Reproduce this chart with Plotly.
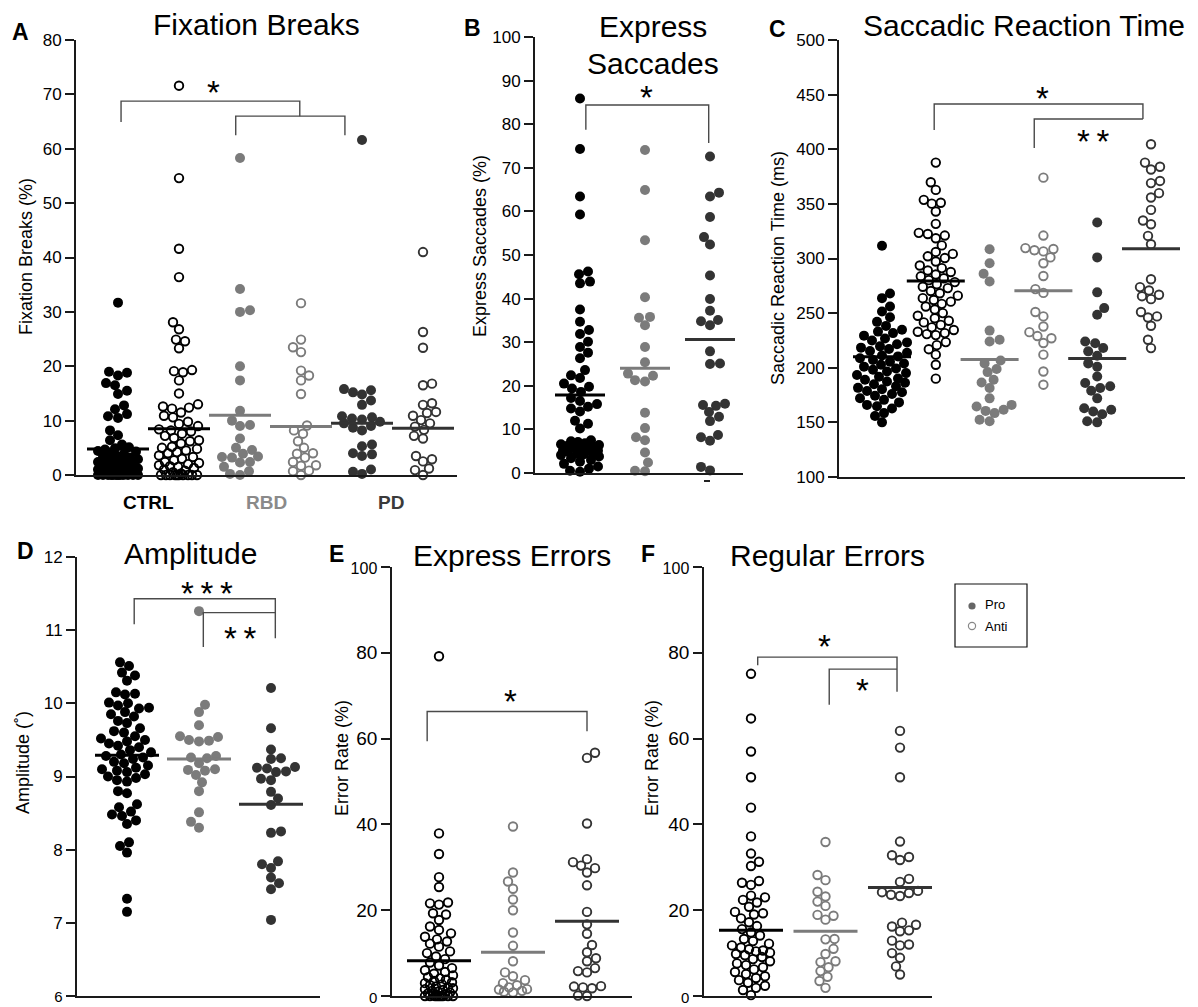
import math
import plotly.graph_objects as go

W, H = 1198, 1007
FONT = "Liberation Sans, Arial, sans-serif"
BLACK = "#000000"
GREY = "#7b7b7b"
DARK = "#333333"
AX = "#1a1a1a"
BRK = "#4a4a4a"

# ---------------- data ----------------
# A  Fixation Breaks (%)
A_ctrl_pro = [31.7, 19.0, 18.8, 18.3, 16.9, 16.5, 15.5, 14.9, 12.8, 12.1, 11.2, 10.8, 10.5, 8.2, 7.3, 6.4,
              5.6, 5.1, 4.9, 4.7, 4.4, 4.3, 3.9, 3.8, 3.5, 3.3, 3.2, 2.9, 2.7, 2.6, 2.4, 2.2, 2.1, 1.9,
              1.9, 1.7, 1.6, 1.6, 1.4, 1.3, 1.2, 1.1, 1.0, 0.9, 0.9, 0.8, 0.7, 0.6, 0.5, 0.4, 0.3, 0.2,
              0.1, 0.0, 0.0, 0.0, 0.0, 0.0, 0.0, 0.0, 0.0, 0.0, 0.0, 0.0, 0.0]
A_ctrl_anti = [71.6, 54.6, 41.6, 36.4, 28.1, 26.8, 24.9, 24.6, 23.3, 19.3, 19.1, 18.9, 17.4, 15.0, 13.0,
               12.6, 12.4, 12.2, 11.5, 10.9, 10.6, 9.8, 9.4, 9.0, 8.4, 8.2, 8.0, 7.6, 7.2, 6.8, 6.4, 6.2,
               5.8, 5.2, 5.0, 4.8, 4.5, 4.2, 4.0, 3.6, 3.3, 3.0, 2.7, 2.4, 2.2, 2.0, 1.8, 1.6, 1.5, 1.3,
               1.0, 0.8, 0.5, 0.3, 0.0, 0.0, 0.0, 0.0, 0.0, 0.0, 0.0, 0.0, 0.0, 0.0]
A_rbd_pro = [58.3, 34.2, 30.3, 30.0, 20.0, 17.4, 11.8, 10.0, 9.2, 9.0, 6.7, 5.0, 4.6, 3.9, 3.4, 3.3, 3.2,
             2.4, 2.3, 1.5, 0.7, 0.2, 0.0]
A_rbd_anti = [31.6, 24.9, 23.5, 22.6, 19.2, 18.3, 17.4, 14.9, 9.1, 8.2, 7.6, 6.2, 5.0, 4.0, 3.9, 3.2, 2.4,
              1.8, 1.7, 0.8, 0.7, 0.0]
A_pd_pro = [61.6, 15.8, 15.6, 15.2, 14.8, 13.7, 12.9, 10.8, 10.6, 10.4, 10.2, 9.8, 9.5, 9.0, 8.7, 8.2,
            5.6, 5.3, 4.0, 3.8, 3.5, 1.0, 0.6, 0.2]
A_pd_anti = [41.0, 26.3, 23.4, 16.8, 16.5, 13.2, 12.9, 11.6, 11.4, 10.9, 10.1, 9.5, 8.9, 8.3, 7.2, 6.7,
             3.5, 2.9, 2.5, 1.2, 0.9, 0.0]
A_means = [4.8, 8.5, 11.0, 8.9, 9.5, 8.6]

# B  Express Saccades (%)
B_ctrl = [85.9, 74.3, 63.4, 59.3, 46.2, 45.6, 43.9, 43.5, 37.5, 34.7, 32.8, 31.9, 30.1, 28.9, 27.6, 26.3,
          23.6, 22.4, 21.8, 20.5, 19.8, 19.4, 18.6, 17.2, 16.5, 15.8, 15.2, 14.8, 14.1, 12.0, 11.3, 10.2,
          7.5, 7.3, 7.1, 6.8, 6.6, 6.4, 6.2, 6.0, 5.8, 5.6, 5.4, 5.2, 5.1, 4.9, 4.7, 4.5, 4.3, 4.1, 3.8,
          3.4, 3.0, 2.6, 2.1, 1.5, 1.0, 0.5, 0.3]
B_rbd = [74.1, 64.9, 53.4, 40.3, 35.8, 35.6, 33.9, 28.9, 25.4, 22.8, 22.3, 21.3, 21.0, 13.8, 10.3, 8.2,
         7.5, 4.7, 2.4, 0.5, 0.4]
B_pd = [72.6, 64.3, 63.4, 58.7, 54.1, 52.4, 45.3, 39.9, 37.2, 35.1, 34.8, 33.9, 27.9, 25.1, 25.0, 15.9,
        15.6, 15.4, 14.0, 12.9, 11.9, 8.7, 8.2, 7.4, 1.4, 0.6]
B_means = [17.9, 24.0, 30.6]

# C  Saccadic Reaction Time (ms)
C_ctrl_pro = [311.6, 268.0, 263.7, 256.0, 251.5, 246.2, 242.0, 238.3, 234.8, 233.1, 231.7, 229.4, 226.8,
              225.0, 223.2, 221.5, 219.6, 218.4, 217.1, 215.3, 213.8, 211.2, 210.4, 208.7, 207.1, 205.6,
              203.9, 202.7, 201.0, 199.4, 198.2, 196.5, 195.1, 193.3, 191.8, 190.2, 189.0, 187.4, 186.2,
              184.9, 183.0, 181.6, 180.3, 178.7, 177.5, 176.0, 174.4, 172.1, 170.6, 168.3, 166.0, 164.8,
              162.7, 158.5, 155.9, 150.0]
C_ctrl_anti = [387.8, 369.8, 362.8, 353.7, 351.0, 350.2, 343.0, 331.7, 323.5, 322.4, 321.0, 318.5, 312.0,
               306.0, 304.2, 302.0, 300.4, 297.3, 293.6, 291.2, 289.0, 287.6, 285.3, 283.7, 281.9, 280.2,
               278.4, 276.5, 274.1, 272.9, 270.3, 268.2, 266.0, 263.7, 262.0, 260.5, 258.5, 256.1, 253.3,
               250.0, 247.6, 245.3, 243.0, 241.5, 239.2, 237.0, 234.6, 233.0, 231.7, 230.8, 229.9, 223.5,
               220.7, 217.0, 212.0, 202.7, 190.0]
C_rbd_pro = [308.5, 295.7, 286.0, 279.0, 234.0, 225.6, 224.0, 206.7, 204.0, 198.8, 196.0, 189.0, 186.5,
             181.4, 172.0, 166.0, 164.6, 161.6, 160.5, 158.5, 152.4, 151.0]
C_rbd_anti = [374.0, 321.0, 309.5, 308.7, 307.6, 306.5, 301.0, 295.7, 284.0, 272.0, 268.5, 251.0, 247.0,
              237.8, 232.6, 229.0, 227.0, 222.6, 212.0, 196.6, 184.5]
C_pd_pro = [333.0, 301.0, 269.0, 254.6, 248.5, 224.0, 222.5, 218.0, 215.0, 211.0, 204.0, 201.0, 192.0,
            186.0, 183.0, 181.4, 179.0, 172.0, 163.0, 161.6, 160.0, 157.5, 151.0, 150.0]
C_pd_anti = [404.6, 387.8, 384.0, 381.5, 371.0, 369.0, 359.8, 355.8, 344.5, 334.8, 331.4, 320.7, 313.0,
             281.0, 273.8, 270.7, 266.8, 265.5, 262.8, 251.0, 247.0, 246.0, 238.4, 225.6, 218.0]
C_means = [210.0, 279.5, 207.5, 270.5, 208.5, 309.0]

# D  Amplitude (deg)
D_ctrl = [10.56, 10.51, 10.42, 10.38, 10.31, 10.15, 10.13, 10.12, 10.01, 10.0, 9.97, 9.94, 9.93, 9.88,
          9.85, 9.82, 9.76, 9.73, 9.66, 9.62, 9.6, 9.55, 9.52, 9.5, 9.48, 9.45, 9.42, 9.4, 9.36, 9.33,
          9.3, 9.28, 9.26, 9.24, 9.2, 9.18, 9.15, 9.12, 9.1, 9.08, 9.06, 9.03, 9.0, 8.98, 8.95, 8.93,
          8.8, 8.77, 8.62, 8.58, 8.52, 8.48, 8.46, 8.4, 8.35, 8.1, 8.05, 7.96, 7.33, 7.15]
D_rbd = [11.26, 9.98, 9.88, 9.70, 9.55, 9.54, 9.50, 9.49, 9.48, 9.28, 9.26, 9.25, 9.18, 9.10, 9.09, 9.08,
         9.02, 8.92, 8.80, 8.51, 8.38, 8.30]
D_pd = [10.21, 9.66, 9.37, 9.25, 9.24, 9.13, 9.12, 9.11, 9.07, 9.06, 8.97, 8.95, 8.79, 8.70, 8.61, 8.25,
        8.23, 7.84, 7.80, 7.75, 7.62, 7.54, 7.46, 7.04]
D_means = [9.29, 9.24, 8.62]

# E  Express Errors, error rate (%)
E_ctrl = [79.2, 37.9, 33.1, 27.7, 25.4, 21.8, 21.6, 21.3, 19.3, 19.0, 17.7, 16.2, 15.4, 14.6, 13.8, 13.2,
          12.7, 12.2, 11.5, 10.4, 10.0, 9.2, 8.6, 7.8, 7.1, 6.5, 6.0, 5.6, 5.2, 4.8, 4.4, 4.1, 3.8, 3.5,
          3.2, 3.0, 2.7, 2.5, 2.2, 2.0, 1.8, 1.6, 1.4, 1.2, 1.0, 0.8, 0.6, 0.4, 0.2, 0.0, 0.0, 0.0, 0.0,
          0.0, 0.0, 0.0, 0.0, 0.0]
E_rbd = [39.5, 28.8, 26.7, 25.0, 22.5, 20.0, 14.8, 11.7, 8.1, 5.5, 4.6, 3.7, 3.0, 2.5, 2.0, 1.6, 1.5,
         1.2, 1.0, 0.8]
E_pd = [56.7, 55.5, 40.2, 31.9, 31.2, 30.4, 29.8, 28.8, 25.8, 19.6, 16.7, 14.5, 11.9, 10.2, 8.8, 8.1,
        6.5, 5.8, 5.5, 2.3, 2.2, 2.0, 1.8, 0.1, 0.0]
E_means = [8.2, 10.2, 17.4]

# F  Regular Errors, error rate (%)
F_ctrl = [75.1, 64.7, 57.0, 51.0, 43.9, 37.2, 33.2, 31.3, 30.3, 26.8, 26.4, 25.9, 23.4, 23.0, 22.4, 21.8,
          20.8, 19.6, 19.3, 19.0, 18.1, 17.2, 16.3, 15.6, 14.8, 14.1, 13.3, 12.8, 12.2, 11.8, 11.3, 10.9,
          10.6, 10.4, 10.1, 9.8, 9.5, 9.1, 8.6, 8.1, 7.6, 7.2, 6.7, 6.2, 5.6, 5.1, 4.6, 4.2, 3.7, 3.1,
          2.4, 1.9, 1.4, 0.2]
F_rbd = [35.9, 28.2, 27.0, 24.3, 23.2, 22.0, 21.0, 18.9, 18.7, 17.8, 13.3, 13.2, 11.0, 9.8, 8.1, 7.9,
         6.7, 5.8, 4.5, 3.5, 1.9]
F_pd = [61.8, 57.9, 51.0, 36.0, 32.8, 32.4, 31.7, 27.3, 26.6, 24.5, 24.2, 24.0, 23.6, 23.3, 17.1, 16.6,
        16.2, 15.3, 15.1, 12.9, 12.0, 11.8, 10.0, 8.9, 6.9, 5.0]
F_means = [15.3, 15.1, 25.3]

GROUP_LABELS = ["CTRL", "RBD", "PD"]
LEGEND_LABELS = ["Pro", "Anti"]

# ---------------- layout description ----------------
panels = [
    dict(letter="A", title=["Fixation Breaks"], ylabel="Fixation Breaks (%)", tfs=17,
         xpx=(76, 457), ypx=(40, 475), yr=(0, 80), dtick=10, c0=118, unit=61, cap=20, halfw=31,
         groups=[(A_ctrl_pro, BLACK, True), (A_ctrl_anti, BLACK, False), (A_rbd_pro, GREY, True),
                 (A_rbd_anti, GREY, False), (A_pd_pro, DARK, True), (A_pd_anti, DARK, False)],
         means=A_means,
         brackets=[[(0.05, 64.9), (0.05, 68.75), (2.98, 68.75), (2.98, 66.0)],
                   [(1.93, 62.5), (1.93, 66.0), (3.72, 66.0), (3.72, 62.5)]],
         stars=[(1.56, 71.3, "*")]),
    dict(letter="B", title=["Express", "Saccades"], ylabel="Express Saccades (%)", tfs=17,
         xpx=(535, 743), ypx=(37, 473), yr=(0, 100), dtick=10, c0=580, unit=65, cap=19, halfw=25,
         groups=[(B_ctrl, BLACK, True), (B_rbd, GREY, True), (B_pd, DARK, True)],
         means=B_means,
         brackets=[[(0.09, 78.7), (0.09, 84.4), (1.98, 84.4), (1.98, 75.7)]],
         stars=[(1.03, 87.2, "*")]),
    dict(letter="C", title=["Saccadic Reaction Time"], ylabel="Saccadic Reaction Time (ms)", tfs=17,
         xpx=(839, 1185), ypx=(40, 477), yr=(100, 500), dtick=50, c0=882, unit=53.8, cap=25, halfw=29,
         groups=[(C_ctrl_pro, BLACK, True), (C_ctrl_anti, BLACK, False), (C_rbd_pro, GREY, True),
                 (C_rbd_anti, GREY, False), (C_pd_pro, DARK, True), (C_pd_anti, DARK, False)],
         means=C_means,
         brackets=[[(0.97, 417.6), (0.97, 441.4), (4.85, 441.4), (4.85, 427.7)],
                   [(2.83, 401.1), (2.83, 427.7), (4.85, 427.7)]],
         stars=[(2.99, 450.6, "*"), (3.92, 412.1, "*\u2009*")]),
    dict(letter="D", title=["Amplitude"], ylabel="Amplitude (\u02da)", tfs=17,
         xpx=(77, 320), ypx=(557, 996), yr=(6, 12), dtick=1, c0=127, unit=72, cap=30, halfw=32,
         groups=[(D_ctrl, BLACK, True), (D_rbd, GREY, True), (D_pd, DARK, True)],
         means=D_means,
         brackets=[[(0.1, 11.08), (0.1, 11.43), (2.06, 11.43), (2.06, 10.89)],
                   [(1.06, 10.77), (1.06, 11.24), (2.06, 11.24)]],
         stars=[(1.11, 11.57, "*\u2009*\u2009*"), (1.57, 10.95, "*\u2009*")]),
    dict(letter="E", title=["Express Errors"], ylabel="Error Rate (%)", tfs=19,
         xpx=(392, 632), ypx=(567, 996), yr=(0, 100), dtick=20, c0=439, unit=74, cap=14, halfw=32,
         groups=[(E_ctrl, BLACK, False), (E_rbd, GREY, False), (E_pd, DARK, False)],
         means=E_means,
         brackets=[[(-0.16, 59.4), (-0.16, 66.3), (2.0, 66.3), (2.0, 61.7)]],
         stars=[(0.96, 69.7, "*")]),
    dict(letter="F", title=["Regular Errors"], ylabel="Error Rate (%)", tfs=19,
         xpx=(704, 932), ypx=(567, 996), yr=(0, 100), dtick=20, c0=751, unit=74.5, cap=19, halfw=32,
         groups=[(F_ctrl, BLACK, False), (F_rbd, GREY, False), (F_pd, DARK, False)],
         means=F_means,
         brackets=[[(0.09, 77.1), (0.09, 79.0), (1.96, 79.0), (1.96, 70.9)],
                   [(1.05, 67.9), (1.05, 76.2), (1.96, 76.2)]],
         stars=[(0.99, 82.7, "*"), (1.5, 72.3, "*")]),
]

# text placement (pixels): letter, title lines, y-label
text_pos = {
    "A": dict(letter=(20, 32), title=[(256, 25)], ylab=(26, 257)),
    "B": dict(letter=(472, 28), title=[(653, 27), (653, 63)], ylab=(480, 246)),
    "C": dict(letter=(777, 29), title=[(1024, 26)], ylab=(778, 268)),
    "D": dict(letter=(25, 551), title=[(190, 553)], ylab=(23, 763)),
    "E": dict(letter=(336, 554), title=[(512, 555)], ylab=(342, 758)),
    "F": dict(letter=(648, 554), title=[(827, 555)], ylab=(652, 758)),
}


def swarm(vals, ppu_y, diam, cap):
    idx = sorted(range(len(vals)), key=lambda i: vals[i])
    placed = []
    offs = [0.0] * len(vals)
    step = 1.0
    base = []
    k = 1
    while k * step <= cap + 1e-9:
        base.append(k * step)
        k += 1
    for n, i in enumerate(idx):
        y = vals[i] * ppu_y
        cands = [0.0]
        sgn = 1 if n % 2 == 0 else -1
        for b in base:
            cands += [sgn * b, -sgn * b]
        bestx, bestd = 0.0, -1.0
        for cx in cands:
            d = min((math.hypot(cx - px, y - py) for px, py in placed), default=1e9)
            if d >= diam:
                bestx = cx
                break
            if d > bestd:
                bestd, bestx = d, cx
        placed.append((bestx, y))
        offs[i] = bestx
    return offs


fig = go.Figure()
annotations = []
shapes = []


def ptxt(x, y, s, size, color="black", angle=0, xanchor="center"):
    annotations.append(dict(x=x / W, y=1 - y / H, xref="paper", yref="paper", text=s, showarrow=False,
                            font=dict(size=size, color=color, family=FONT), textangle=angle,
                            xanchor=xanchor, yanchor="middle"))


layout_axes = {}
for k, p in enumerate(panels):
    sfx = "" if k == 0 else str(k + 1)
    xa, ya = "x" + sfx, "y" + sfx
    xr = [(p["xpx"][0] - p["c0"]) / p["unit"], (p["xpx"][1] - p["c0"]) / p["unit"]]
    ppu_y = (p["ypx"][1] - p["ypx"][0]) / (p["yr"][1] - p["yr"][0])
    tickvals = []
    v = p["yr"][0]
    while v <= p["yr"][1] + 1e-9:
        tickvals.append(round(v, 6))
        v += p["dtick"]
    ticktext = [("%g" % t) for t in tickvals]
    if p["letter"] in ("E", "F"):
        ticktext[-1] = "<span style='font-size:16px'>%s</span>" % ticktext[-1]
    if p["ypx"][1] > 990:
        # bottom-most label near the page edge: slightly smaller so it is not cut off
        ticktext[0] = "<span style='font-size:15px'>%s</span>" % ticktext[0]
    layout_axes["xaxis" + sfx] = dict(domain=[p["xpx"][0] / W, p["xpx"][1] / W], range=xr, anchor=ya,
                                      showline=True, linecolor=AX, linewidth=1.8, ticks="",
                                      showticklabels=False, showgrid=False, zeroline=False,
                                      fixedrange=True, automargin=False)
    layout_axes["yaxis" + sfx] = dict(domain=[1 - p["ypx"][1] / H, 1 - p["ypx"][0] / H], range=list(p["yr"]),
                                      anchor=xa, showline=True, linecolor=AX, linewidth=1.8, ticks="outside",
                                      ticklen=9, tickwidth=1.5, tickcolor=AX, tickvals=tickvals,
                                      ticktext=ticktext, tickfont=dict(size=p["tfs"], family=FONT, color="black"),
                                      ticklabeloverflow="allow",
                                      showgrid=False, zeroline=False, fixedrange=True, automargin=False)
    # points
    for gi, (vals, col, filled) in enumerate(p["groups"]):
        y0 = p["yr"][0]
        diam = 10 if filled else 9.5
        offs = swarm([v - y0 for v in vals], ppu_y, diam * 0.92, p["cap"])
        xs = [gi + o / p["unit"] for o in offs]
        if filled:
            marker = dict(size=10, color=col, line=dict(width=0))
        else:
            marker = dict(size=8.5, color=col, symbol="circle-open", line=dict(width=1.9, color=col))
        fig.add_trace(go.Scatter(x=xs, y=vals, mode="markers", marker=marker, xaxis=xa, yaxis=ya,
                                 cliponaxis=False, hoverinfo="y", showlegend=False))
    # mean lines
    hw = p["halfw"] / p["unit"]
    for gi, m in enumerate(p["means"]):
        col = p["groups"][gi][1]
        fig.add_trace(go.Scatter(x=[gi - hw, gi + hw], y=[m, m], mode="lines",
                                 line=dict(color=col, width=3), xaxis=xa, yaxis=ya, cliponaxis=False,
                                 hoverinfo="skip", showlegend=False))
    # significance brackets
    for br in p["brackets"]:
        fig.add_trace(go.Scatter(x=[q[0] for q in br], y=[q[1] for q in br], mode="lines",
                                 line=dict(color=BRK, width=1.4), xaxis=xa, yaxis=ya, cliponaxis=False,
                                 hoverinfo="skip", showlegend=False))
    for sx, sy, s in p["stars"]:
        annotations.append(dict(x=sx, y=sy, xref=xa, yref=ya, text=s, showarrow=False, yshift=-5,
                                font=dict(size=33, family=FONT, color="black"), xanchor="center",
                                yanchor="middle"))
    # texts
    tp = text_pos[p["letter"]]
    ptxt(*tp["letter"], "<b>%s</b>" % p["letter"], 23)
    for (tx, ty), line in zip(tp["title"], p["title"]):
        ptxt(tx, ty, line, 30)
    ptxt(*tp["ylab"], p["ylabel"], 18, angle=-90)

# group labels under panel A
ptxt(148, 502, "<b>%s</b>" % GROUP_LABELS[0], 19, color="#000000")
ptxt(266, 502, "<b>%s</b>" % GROUP_LABELS[1], 19, color="#8a8a8a")
ptxt(391, 502, "<b>%s</b>" % GROUP_LABELS[2], 19, color="#3a3a3a")

# small dash under panel B PD group
shapes.append(dict(type="line", xref="paper", yref="paper", x0=704 / W, x1=710 / W, y0=1 - 481 / H,
                   y1=1 - 481 / H, line=dict(color="#222", width=2)))

# legend box
shapes.append(dict(type="rect", xref="paper", yref="paper", x0=955 / W, x1=1027 / W, y0=1 - 647 / H,
                   y1=1 - 584 / H, line=dict(color="#111", width=1.2), fillcolor="white"))
r = 3.6
shapes.append(dict(type="circle", xref="paper", yref="paper", x0=(972 - r) / W, x1=(972 + r) / W,
                   y0=1 - (606 + r) / H, y1=1 - (606 - r) / H, line=dict(width=0), fillcolor="#666666"))
shapes.append(dict(type="circle", xref="paper", yref="paper", x0=(972 - r) / W, x1=(972 + r) / W,
                   y0=1 - (626 + r) / H, y1=1 - (626 - r) / H, line=dict(width=1.2, color="#888888"),
                   fillcolor="white"))
ptxt(983, 604, LEGEND_LABELS[0], 13, xanchor="left")
ptxt(983, 626, LEGEND_LABELS[1], 13, xanchor="left")

fig.update_layout(width=W, height=H, margin=dict(l=0, r=0, t=0, b=0, autoexpand=False),
                  paper_bgcolor="white", plot_bgcolor="white", showlegend=False,
                  font=dict(family=FONT, color="black"),
                  annotations=annotations, shapes=shapes, **layout_axes)

fig.write_html(
    "out.html",
    config={"displayModeBar": False},
    post_script=("var gd=document.getElementById('{plot_id}');"
                 "gd.style.position='fixed';gd.style.left='0px';gd.style.top='0px';"
                 "document.body.style.margin='0';document.documentElement.style.overflow='hidden';"),
)
